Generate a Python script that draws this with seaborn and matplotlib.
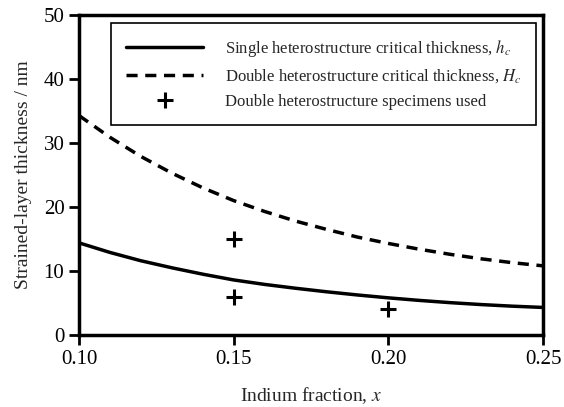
import numpy as np
import pandas as pd
import matplotlib
matplotlib.use("Agg")
import matplotlib.pyplot as plt
import seaborn as sns

# Values
indium = [0.10, 0.11, 0.12, 0.13, 0.14, 0.15, 0.16, 0.17,
          0.18, 0.19, 0.20, 0.21, 0.22, 0.23, 0.24, 0.25]
h_single = [14.4, 12.9, 11.6, 10.5, 9.5, 8.6, 7.9, 7.3,
            6.75, 6.25, 5.8, 5.4, 5.05, 4.75, 4.5, 4.3]
h_double = [34.3, 30.9, 27.9, 25.3, 23.0, 21.0, 19.3, 17.8,
            16.5, 15.3, 14.3, 13.4, 12.6, 11.9, 11.3, 10.8]
spec_x = [0.15, 0.15, 0.20]
spec_y = [15.0, 6.0, 4.0]

sns.set_theme(style="ticks")
plt.rcParams["font.family"] = ["Liberation Serif", "DejaVu Serif"]
plt.rcParams["mathtext.fontset"] = "stix"

df = pd.DataFrame({"x": indium, "hc": h_single, "Hc": h_double})
spec = pd.DataFrame({"x": spec_x, "y": spec_y})

fig = plt.figure(figsize=(5.64, 4.07), dpi=100)
ax = fig.add_axes([0.140, 0.177, 0.823, 0.786])

sns.lineplot(data=df, x="x", y="hc", ax=ax, color="black", lw=2.5,
             label=r"Single heterostructure critical thickness, $h_c$")
sns.lineplot(data=df, x="x", y="Hc", ax=ax, color="black", lw=2.5,
             linestyle=(0, (3.2, 2.2)),
             label=r"Double heterostructure critical thickness, $H_c$")
ax.plot(spec["x"], spec["y"], linestyle="none", marker="+", color="black",
        markersize=12, markeredgewidth=2.2,
        label="Double heterostructure specimens used")

ax.set_xlim(0.10, 0.25)
ax.set_ylim(0, 50)
ax.set_xticks([0.10, 0.15, 0.20, 0.25])
ax.set_xticklabels(["0.10", "0.15", "0.20", "0.25"])
ax.set_yticks([0, 10, 20, 30, 40, 50])
ax.tick_params(axis="both", labelsize=15, width=2, length=7, color="black",
               labelcolor="black", top=False, right=False)
ax.set_xlabel(r"Indium fraction, $x$", fontsize=14, labelpad=12)
ax.set_ylabel("Strained-layer thickness / nm", fontsize=14, labelpad=8)
for s in ax.spines.values():
    s.set_visible(True)
    s.set_linewidth(2.5)
    s.set_color("black")

leg = ax.legend(loc="upper right", bbox_to_anchor=(0.985, 0.975),
                borderaxespad=0, fontsize=12, handlelength=4.6,
                handletextpad=1.3, fancybox=False, frameon=True,
                borderpad=0.9, labelspacing=0.5)
leg.get_frame().set_edgecolor("black")
leg.get_frame().set_linewidth(1.2)
leg.get_frame().set_alpha(1)

fig.savefig("out.png", dpi=100)
